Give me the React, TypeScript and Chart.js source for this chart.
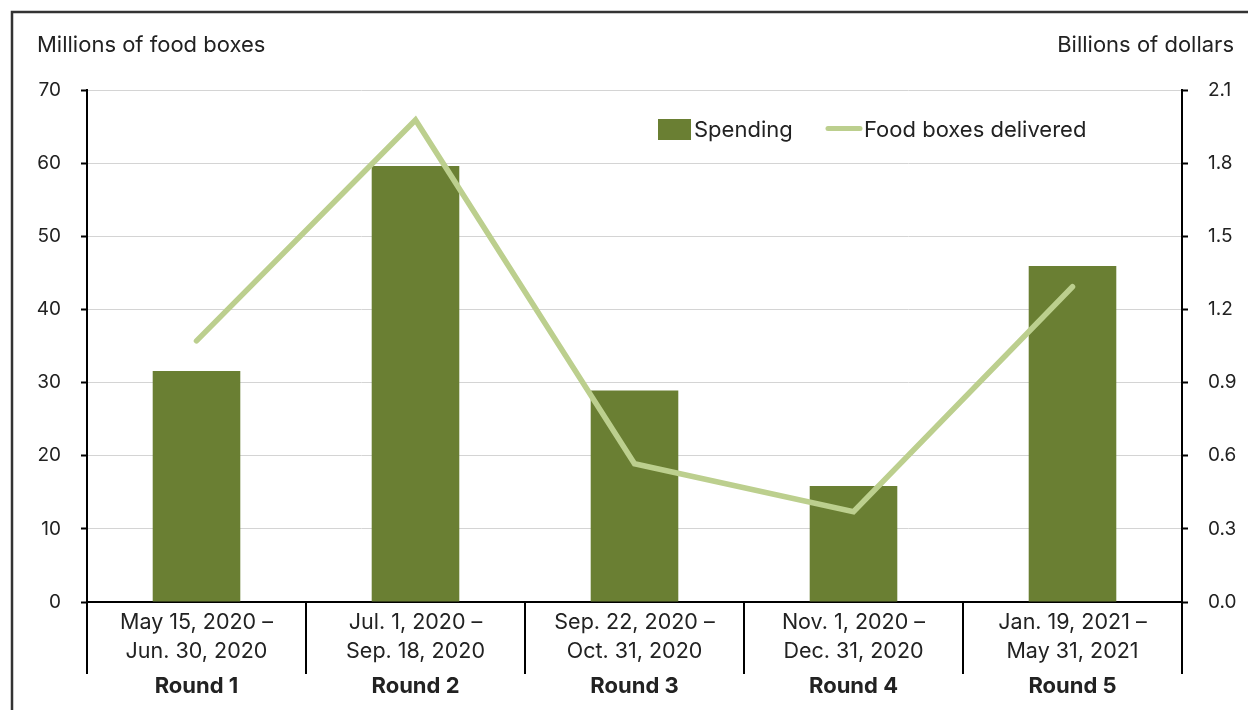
import React, { useEffect, useRef } from "react";
import { Chart, registerables } from "chart.js";

Chart.register(...registerables);

const dateLabels: string[][] = [
  ["May 15, 2020 –", "Jun. 30, 2020"],
  ["Jul. 1, 2020 –", "Sep. 18, 2020"],
  ["Sep. 22, 2020 –", "Oct. 31, 2020"],
  ["Nov. 1, 2020 –", "Dec. 31, 2020"],
  ["Jan. 19, 2021 –", "May 31, 2021"],
];
const roundLabels: string[] = ["Round 1", "Round 2", "Round 3", "Round 4", "Round 5"];
const spendingBillions: number[] = [0.947, 1.788, 0.867, 0.476, 1.378];
const boxesMillions: number[] = [35.7, 65.9, 18.9, 12.35, 43.1];
const leftTicks = { min: 0, max: 70, step: 10 };
const rightTicks = { min: 0, max: 2.1, step: 0.3 };

const FONT = "Inter, 'Noto Sans', sans-serif";
const BAR_COLOR = "#6a7f33";
const LINE_COLOR = "#bccf8e";
const TEXT = "#222222";

const decorPlugin = {
  id: "decor",
  afterDraw(chart: any) {
    const ctx = chart.ctx;
    const ca = chart.chartArea;
    ctx.save();
    // frame
    ctx.strokeStyle = "#333333";
    ctx.lineWidth = 2.5;
    ctx.beginPath();
    ctx.moveTo(12, 712);
    ctx.lineTo(12, 12);
    ctx.lineTo(1250, 12);
    ctx.stroke();
    // axis titles
    ctx.fillStyle = TEXT;
    ctx.font = `22px ${FONT}`;
    ctx.textBaseline = "middle";
    ctx.textAlign = "left";
    ctx.fillText("Millions of food boxes", 37, 45);
    ctx.textAlign = "right";
    ctx.fillText("Billions of dollars", 1234, 45);
    // category dividers
    const n = roundLabels.length;
    const w = (ca.right - ca.left) / n;
    ctx.strokeStyle = "#000000";
    ctx.lineWidth = 2;
    for (let i = 0; i <= n; i++) {
      const x = Math.round(ca.left + i * w);
      ctx.beginPath();
      ctx.moveTo(x, ca.bottom);
      ctx.lineTo(x, ca.bottom + 72);
      ctx.stroke();
    }
    // legend
    ctx.font = `22px ${FONT}`;
    ctx.textAlign = "left";
    ctx.textBaseline = "middle";
    ctx.fillStyle = BAR_COLOR;
    ctx.fillRect(658, 119, 33, 21);
    ctx.fillStyle = TEXT;
    ctx.fillText("Spending", 694, 130);
    ctx.strokeStyle = LINE_COLOR;
    ctx.lineWidth = 5;
    ctx.lineCap = "round";
    ctx.beginPath();
    ctx.moveTo(828, 128.5);
    ctx.lineTo(860, 128.5);
    ctx.stroke();
    ctx.fillStyle = TEXT;
    ctx.fillText("Food boxes delivered", 864, 130);
    ctx.restore();
  },
};

export default function App() {
  const ref = useRef<HTMLCanvasElement | null>(null);
  useEffect(() => {
    if (!ref.current) return;
    const chart = new Chart(ref.current, {
      type: "bar",
      data: {
        labels: dateLabels,
        datasets: [
          {
            type: "line",
            label: "Food boxes delivered",
            data: boxesMillions,
            yAxisID: "y",
            xAxisID: "x",
            borderColor: LINE_COLOR,
            backgroundColor: LINE_COLOR,
            borderWidth: 5.5,
            borderCapStyle: "round",
            borderJoinStyle: "miter",
            pointRadius: 0,
            tension: 0,
            order: 0,
          } as any,
          {
            type: "bar",
            label: "Spending",
            data: spendingBillions,
            yAxisID: "y1",
            xAxisID: "x",
            backgroundColor: BAR_COLOR,
            categoryPercentage: 1,
            barPercentage: 0.4,
            order: 1,
          },
        ],
      },
      options: {
        responsive: false,
        animation: false,
        maintainAspectRatio: false,
        layout: { padding: { top: 90, left: 0, right: 0, bottom: 0 } },
        plugins: {
          legend: { display: false },
          tooltip: { enabled: false },
        },
        scales: {
          x: {
            type: "category",
            position: "bottom",
            offset: true,
            grid: { display: false },
            border: { display: true, color: "#000", width: 2 },
            ticks: {
              color: TEXT,
              font: { family: FONT, size: 21.5, lineHeight: "29px" },
              padding: -2,
              maxRotation: 0,
              autoSkip: false,
            },
            afterFit: (s: any) => {
              s.height = 68;
            },
          },
          x2: {
            type: "category",
            position: "bottom",
            labels: roundLabels,
            offset: true,
            grid: { display: false, drawTicks: false },
            border: { display: false },
            ticks: {
              color: TEXT,
              font: { family: FONT, size: 22, weight: "bold" },
              padding: 3,
              maxRotation: 0,
              autoSkip: false,
            },
            afterFit: (s: any) => {
              s.height = 40;
            },
          },
          y: {
            position: "left",
            min: leftTicks.min,
            max: leftTicks.max,
            grid: {
              color: "#d4d4d4",
              lineWidth: 1,
              tickColor: "#000",
              tickLength: 6,
              tickWidth: 2,
            },
            border: { display: true, color: "#000", width: 2 },
            ticks: {
              stepSize: leftTicks.step,
              color: TEXT,
              padding: 20,
              font: { family: FONT, size: 19 },
            },
            afterFit: (s: any) => {
              s.width = 87;
            },
          },
          y1: {
            position: "right",
            min: rightTicks.min,
            max: rightTicks.max,
            grid: {
              drawOnChartArea: false,
              tickColor: "#000",
              tickLength: 6,
              tickWidth: 2,
            },
            border: { display: true, color: "#000", width: 2 },
            ticks: {
              stepSize: rightTicks.step,
              color: TEXT,
              padding: 20,
              font: { family: FONT, size: 19 },
              callback: (v: any) => Number(v).toFixed(1),
            },
            afterFit: (s: any) => {
              s.width = 66;
            },
          },
        },
      },
      plugins: [decorPlugin],
    });
    return () => chart.destroy();
  }, []);
  return (
    <div style={{ position: "fixed", left: 0, top: 0, width: 1248, height: 710, background: "#fff" }}>
      <canvas ref={ref} width={1248} height={710} style={{ display: "block" }} />
    </div>
  );
}
